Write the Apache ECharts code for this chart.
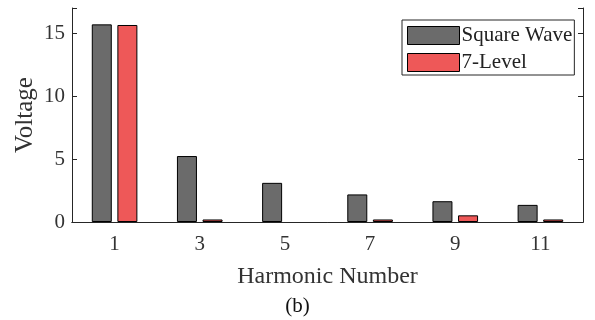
<!DOCTYPE html>
<html>
<head>
<meta charset="utf-8">
<script src="https://cdn.jsdelivr.net/npm/echarts@6/dist/echarts.min.js"></script>
<style>
  html, body { margin: 0; padding: 0; background: #fff; }
  #chart { width: 595px; height: 320px; }
</style>
</head>
<body>
<div id="chart"></div>
<script>
// harmonic orders on the x axis
var harmonics = ['1', '3', '5', '7', '9', '11'];
// amplitudes
var squareWave = [15.7, 5.24, 3.11, 2.19, 1.65, 1.36];
var sevenLevel = [15.65, 0.2, 0, 0.2, 0.53, 0.2];
var yTicks = [0, 5, 10, 15];

var chart = echarts.init(document.getElementById('chart'), null, {renderer: 'canvas'});
var serif = 'Liberation Serif';
var axisColor = '#262626';

// a zero bar should not leave a border line on the axis
function barData(arr) {
  return arr.map(function (v) {
    return v === 0 ? {value: v, itemStyle: {borderWidth: 0}} : v;
  });
}

var option = {
  animation: false,
  backgroundColor: '#fff',
  textStyle: {fontFamily: serif},
  grid: {left: 72, right: 12, top: 8, bottom: 98},
  legend: {
    orient: 'vertical',
    left: 402,
    top: 20,
    padding: [5, 2, 2, 5],
    itemGap: 6,
    itemWidth: 52,
    itemHeight: 18,
    icon: 'rect',
    borderColor: axisColor,
    borderWidth: 1,
    backgroundColor: '#fff',
    textStyle: {fontFamily: serif, fontSize: 21, color: '#222', padding: [0, 0, 0, -3], lineHeight: 18},
    data: [
      {name: 'Square Wave', itemStyle: {color: '#6b6b6b', borderColor: '#000', borderWidth: 1}},
      {name: '7-Level', itemStyle: {color: '#ee5858', borderColor: '#000', borderWidth: 1}}
    ]
  },
  xAxis: [{
    type: 'category',
    data: harmonics,
    name: 'Harmonic Number',
    nameLocation: 'middle',
    nameGap: 43,
    nameTextStyle: {fontFamily: serif, fontSize: 24, color: '#333'},
    axisLine: {lineStyle: {color: axisColor, width: 1}},
    axisTick: {inside: true, alignWithLabel: true, length: 5, lineStyle: {color: axisColor}},
    axisLabel: {fontFamily: serif, fontSize: 21, color: '#333', margin: 12}
  }, {
    type: 'category',
    data: harmonics,
    position: 'top',
    axisLine: {lineStyle: {color: axisColor, width: 1}},
    axisTick: {inside: true, alignWithLabel: true, length: 5, lineStyle: {color: axisColor}},
    axisLabel: {show: false}
  }],
  yAxis: [{
    type: 'value',
    min: 0,
    max: 17,
    interval: 5,
    name: 'Voltage',
    nameLocation: 'middle',
    nameGap: 34,
    nameMoveOverlap: false,
    nameTextStyle: {fontFamily: serif, fontSize: 25, color: '#333'},
    axisLine: {show: true, lineStyle: {color: axisColor, width: 1}},
    axisTick: {show: true, inside: true, length: 5, lineStyle: {color: axisColor}},
    splitLine: {show: false},
    axisLabel: {
      fontFamily: serif, fontSize: 21, color: '#333', margin: 7,
      formatter: function (v) { return yTicks.indexOf(v) >= 0 ? String(v) : ''; }
    }
  }, {
    type: 'value',
    min: 0,
    max: 17,
    interval: 5,
    position: 'right',
    axisLine: {show: true, lineStyle: {color: axisColor, width: 1}},
    axisTick: {show: true, inside: true, length: 5, lineStyle: {color: axisColor}},
    splitLine: {show: false},
    axisLabel: {show: false}
  }],
  series: [{
    name: 'Square Wave',
    type: 'bar',
    data: barData(squareWave),
    barWidth: 20,
    barGap: '28%',
    itemStyle: {color: '#6b6b6b', borderColor: '#000', borderWidth: 1}
  }, {
    name: '7-Level',
    type: 'bar',
    data: barData(sevenLevel),
    barWidth: 20,
    itemStyle: {color: '#ee5858', borderColor: '#000', borderWidth: 1}
  }],
  graphic: [{
    type: 'text',
    left: 'center',
    top: 296,
    style: {text: '(b)', font: '21px "Liberation Serif"', fill: '#111'}
  }]
};
chart.setOption(option);
</script>
</body>
</html>
